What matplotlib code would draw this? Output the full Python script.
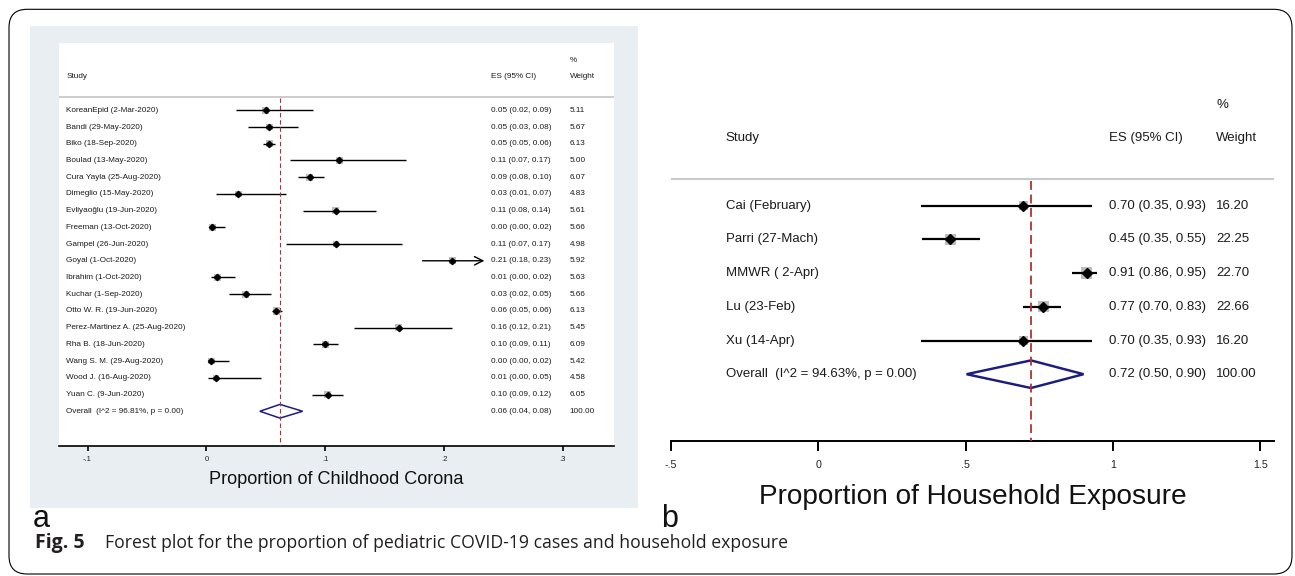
import matplotlib
matplotlib.use('Agg')
import matplotlib.pyplot as plt
from matplotlib.patches import Rectangle, FancyBboxPatch, Polygon
from matplotlib.transforms import blended_transform_factory
import numpy as np

# ---- panel a data (childhood corona) ----
studies_a = ['KoreanEpid (2-Mar-2020)', 'Bandi (29-May-2020)', 'Biko (18-Sep-2020)',
             'Boulad (13-May-2020)', 'Cura Yayla (25-Aug-2020)', 'Dimeglio (15-May-2020)',
             'Evliyaoğlu (19-Jun-2020)', 'Freeman (13-Oct-2020)', 'Gampel (26-Jun-2020)',
             'Goyal (1-Oct-2020)', 'Ibrahim (1-Oct-2020)', 'Kuchar (1-Sep-2020)',
             'Otto W. R. (19-Jun-2020)', 'Perez-Martinez A. (25-Aug-2020)', 'Rha B. (18-Jun-2020)',
             'Wang S. M. (29-Aug-2020)', 'Wood J. (16-Aug-2020)', 'Yuan C. (9-Jun-2020)']
es_a = [0.050, 0.053, 0.053, 0.112, 0.087, 0.027, 0.109, 0.005, 0.109,
        0.207, 0.009, 0.033, 0.059, 0.162, 0.100, 0.004, 0.008, 0.102]
lo_a = [0.025, 0.035, 0.048, 0.070, 0.077, 0.008, 0.081, 0.002, 0.067,
        0.182, 0.004, 0.019, 0.055, 0.124, 0.090, 0.001, 0.001, 0.089]
hi_a = [0.090, 0.077, 0.058, 0.168, 0.099, 0.067, 0.143, 0.016, 0.165,
        0.234, 0.024, 0.054, 0.064, 0.207, 0.111, 0.019, 0.046, 0.115]
arrow_a = [False] * 9 + [True] + [False] * 8
weights_a = [5.11, 5.67, 6.13, 5.00, 6.07, 4.83, 5.61, 5.66, 4.98,
             5.92, 5.63, 5.66, 6.13, 5.45, 6.09, 5.42, 4.58, 6.05]
ci_text_a = ['0.05 (0.02, 0.09)', '0.05 (0.03, 0.08)', '0.05 (0.05, 0.06)', '0.11 (0.07, 0.17)',
             '0.09 (0.08, 0.10)', '0.03 (0.01, 0.07)', '0.11 (0.08, 0.14)', '0.00 (0.00, 0.02)',
             '0.11 (0.07, 0.17)', '0.21 (0.18, 0.23)', '0.01 (0.00, 0.02)', '0.03 (0.02, 0.05)',
             '0.06 (0.05, 0.06)', '0.16 (0.12, 0.21)', '0.10 (0.09, 0.11)', '0.00 (0.00, 0.02)',
             '0.01 (0.00, 0.05)', '0.10 (0.09, 0.12)']
overall_a = [0.062, 0.045, 0.081]
overall_label_a = 'Overall  (I^2 = 96.81%, p = 0.00)'
overall_text_a = '0.06 (0.04, 0.08)'
ticks_a = [-0.1, 0, 0.1, 0.2, 0.3]
ticklabels_a = ['-.1', '0', '.1', '.2', '.3']

# ---- panel b data (household exposure) ----
studies_b = ['Cai (February)', 'Parri (27-Mach)', 'MMWR ( 2-Apr)', 'Lu (23-Feb)', 'Xu (14-Apr)']
es_b = [0.696, 0.448, 0.911, 0.763, 0.696]
lo_b = [0.347, 0.352, 0.862, 0.695, 0.347]
hi_b = [0.930, 0.550, 0.944, 0.823, 0.930]
weights_b = [16.20, 22.25, 22.70, 22.66, 16.20]
ci_text_b = ['0.70 (0.35, 0.93)', '0.45 (0.35, 0.55)', '0.91 (0.86, 0.95)',
             '0.77 (0.70, 0.83)', '0.70 (0.35, 0.93)']
overall_b = [0.7215, 0.503, 0.900]
overall_label_b = 'Overall  (I^2 = 94.63%, p = 0.00)'
overall_text_b = '0.72 (0.50, 0.90)'
ticks_b = [-0.5, 0, 0.5, 1, 1.5]
ticklabels_b = ['-.5', '0', '.5', '1', '1.5']

W, H = 1295, 576


def fx(px):
    return px / W


def fy(py):
    return 1 - py / H


plt.rcParams['font.family'] = ['Liberation Sans', 'DejaVu Sans']

fig = plt.figure(figsize=(W / 100, H / 100), dpi=100)

# outer rounded frame
frame = FancyBboxPatch((fx(9), fy(574)), fx(1292) - fx(9), fy(9.3) - fy(574),
                       boxstyle='round,pad=0,rounding_size=0.014', mutation_aspect=W / H,
                       transform=fig.transFigure, fill=False, ec='black', lw=0.8, zorder=-2)
fig.add_artist(frame)
# light graph region behind panel a
fig.add_artist(Rectangle((fx(30), fy(508.3)), fx(638) - fx(30), fy(26) - fy(508.3),
                         transform=fig.transFigure, fc='#e8eef1', ec='none', zorder=-1))


def forest(ax, studies, es, lo, hi, weights, ci_text, overall, ov_label, ov_text,
           ticks, ticklabels, xlim, ylim, cols, fs, tick_fs, box_k, pt_ms, lw, spine_lw,
           tick_len, tick_pad, dash, arrows=None):
    n = len(studies)
    rows = np.arange(n)
    if arrows is None:
        arrows = [False] * n
    ar = np.array(arrows)
    ax.scatter(es, rows, marker='s', s=(box_k * np.sqrt(weights)) ** 2, c='#bdbdbd',
               linewidths=0, zorder=2)
    ax.hlines(rows[~ar], np.array(lo)[~ar], np.array(hi)[~ar], color='black', lw=lw, zorder=3)
    for r in rows[ar]:
        ax.annotate('', xy=(hi[r], r), xytext=(lo[r], r),
                    arrowprops=dict(arrowstyle='->,head_length=0.6,head_width=0.3',
                                    lw=lw, color='black', shrinkA=0, shrinkB=0), zorder=3)
    ax.plot(es, rows, 'D', color='black', ms=pt_ms, zorder=4)
    # pooled diamond
    ov, ol, oh = overall
    ax.add_patch(Polygon([(ol, n), (ov, n - 0.41), (oh, n), (ov, n + 0.41)], closed=True,
                         fill=False, ec='#1c1c80', lw=lw * 1.1, zorder=4))
    ax.plot([ov, ov], [-0.72, ylim[0]], color='#b0302e', lw=lw * 0.8,
            dashes=dash, zorder=5)
    ax.axhline(-0.78, color='#c9c9c9', lw=spine_lw * 1.1, zorder=1)

    tr = blended_transform_factory(ax.transAxes, ax.transData)
    cx_study, cx_es, cx_w = cols
    kw = dict(transform=tr, fontsize=fs, va='center', color='#1a1a1a')
    ax.text(cx_study, -2, 'Study', **kw)
    ax.text(cx_es, -2, 'ES (95% CI)', **kw)
    ax.text(cx_w, -3, '%', **kw)
    ax.text(cx_w, -2, 'Weight', **kw)
    for r in rows:
        ax.text(cx_study, r, studies[r], **kw)
        ax.text(cx_es, r, ci_text[r], **kw)
        ax.text(cx_w, r, f'{weights[r]:.2f}', **kw)
    ax.text(cx_study, n, ov_label, **kw)
    ax.text(cx_es, n, ov_text, **kw)
    ax.text(cx_w, n, '100.00', **kw)

    for s in ['top', 'left', 'right']:
        ax.spines[s].set_visible(False)
    ax.spines['bottom'].set_linewidth(spine_lw)
    ax.set_xticks(ticks)
    ax.set_xticklabels(ticklabels, fontsize=tick_fs, color='#222222')
    ax.set_yticks([])
    ax.tick_params(axis='x', direction='out', length=tick_len, width=spine_lw,
                   pad=tick_pad)
    ax.set_xlim(*xlim)
    ax.set_ylim(*ylim)


# panel a axes: white plot region
ax_a = fig.add_axes([fx(59.3), fy(445.7), fx(614) - fx(59.3), fy(43) - fy(445.7)])
ax_a.set_facecolor('white')
forest(ax_a, studies_a, es_a, lo_a, hi_a, weights_a, ci_text_a, overall_a,
       overall_label_a, overall_text_a, ticks_a, ticklabels_a,
       xlim=(-0.1238, 0.3431), ylim=(20.06, -4.025), cols=(0.0126, 0.779, 0.920),
       fs=5.9, tick_fs=5.5, box_k=2.1, pt_ms=3.2, lw=1.0, spine_lw=1.2,
       tick_len=3.6, tick_pad=3.6, dash=(4, 2.5), arrows=arrow_a)

# panel b axes
ax_b = fig.add_axes([fx(670.5), fy(440.7), fx(1274) - fx(670.5), fy(71) - fy(440.7)])
ax_b.set_facecolor('none')
forest(ax_b, studies_b, es_b, lo_b, hi_b, weights_b, ci_text_b, overall_b,
       overall_label_b, overall_text_b, ticks_b, ticklabels_b,
       xlim=(-0.502, 1.5465), ylim=(6.973, -3.997), cols=(0.0913, 0.726, 0.9046),
       fs=9.5, tick_fs=7.7, box_k=1.7, pt_ms=4.6, lw=1.6, spine_lw=1.4,
       tick_len=7.2, tick_pad=7, dash=(5, 2.6))

# axis titles
fig.text(fx(336.5), fy(479.3), 'Proportion of Childhood Corona', fontsize=13.1,
         ha='center', va='center', color='#111111')
fig.text(fx(972.5), fy(497), 'Proportion of Household Exposure', fontsize=20.2,
         ha='center', va='center', color='#111111')

# panel letters
fig.text(fx(33), fy(527), 'a', fontsize=22, va='baseline', color='#111111')
fig.text(fx(661), fy(527), 'b', fontsize=22, va='baseline', color='#111111')

# caption
fig.text(fx(35), fy(548.3), 'Fig. 5', fontsize=14, fontweight='bold',
         family=['Open Sans', 'DejaVu Sans'], va='baseline', color='#231f20')
cap = fig.text(fx(105), fy(548.3),
               'Forest plot for the proportion of pediatric COVID-19 cases and household exposure',
               fontsize=13.4, family=['Open Sans', 'DejaVu Sans'], va='baseline',
               color='#231f20')
renderer = fig.canvas.get_renderer()
wpx = cap.get_window_extent(renderer).width
cap.set_fontsize(13.4 * 684 / wpx)

fig.savefig('out.png', dpi=100)
